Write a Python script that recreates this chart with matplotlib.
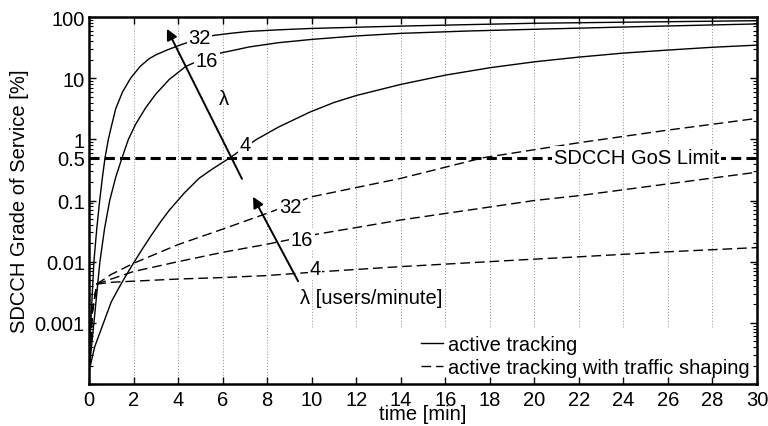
import numpy as np
import matplotlib
matplotlib.use("Agg")
import matplotlib.pyplot as plt

plt.rcParams['font.family'] = ['Liberation Sans', 'DejaVu Sans']

# ---------------- data (time in minutes, GoS in %) ----------------
lambdas = [32, 16, 4]

solid32_t = [0, 0.08, 0.22, 0.35, 0.48, 0.6, 0.72, 0.87, 1.0, 1.2, 1.5, 1.87, 2.3, 2.7, 3.0, 3.5,
             4.2, 4.9, 5.6, 6.4, 7.2, 8.5, 10, 12, 14, 17, 20, 25, 30]
solid32_v = [1.6e-4, 1e-3, 0.01, 0.035, 0.1, 0.235, 0.5, 1.0, 1.6, 3.16, 5.9, 10, 15.6, 20.8, 24, 28.8,
             36, 43, 50, 54.3, 58.2, 61.7, 65, 68, 71, 75, 79, 83, 87]

solid16_t = [0, 0.22, 0.49, 0.7, 0.93, 1.2, 1.5, 1.77, 2.1, 2.55, 3.0, 3.6, 4.34, 5.2, 5.9, 7.2,
             8.5, 10, 12, 14, 17, 20, 25, 30]
solid16_v = [1.6e-4, 1e-3, 0.01, 0.035, 0.1, 0.24, 0.52, 1.0, 1.78, 3.3, 5.5, 9.5, 15.5, 21.4, 25.7, 32.4,
             38, 43, 49, 54, 59, 63, 70, 77]

solid4_t = [0, 0.25, 0.57, 1.0, 1.3, 1.62, 2.0, 2.4, 2.8, 3.2, 3.6, 4.3, 4.94, 5.5, 6.33, 7.0, 7.53,
            8.5, 9.93, 11, 12, 14, 16, 18, 20, 22, 24, 26, 28, 30]
solid4_v = [1.6e-4, 4e-4, 8.3e-4, 0.0022, 0.0035, 0.0056, 0.0095, 0.0162, 0.027, 0.044, 0.069, 0.135,
            0.23, 0.32, 0.5, 0.74, 1.0, 1.58, 2.8, 4.0, 5.2, 7.9, 11.2, 14.8, 18.5, 22.1, 25.7, 28.8, 32, 34.7]

dashed32_t = [0, 0.15, 0.35, 1.0, 2.0, 4.0, 6.0, 7.9, 10, 14, 17.7, 22, 25.9, 30]
dashed32_v = [1.6e-4, 0.0015, 0.0043, 0.0062, 0.0094, 0.019, 0.034, 0.06, 0.115, 0.23, 0.5, 0.88, 1.4, 2.2]

dashed16_t = [0, 0.15, 0.35, 1.0, 2.0, 4.0, 6.0, 7.9, 10.2, 14, 20, 22, 26, 30]
dashed16_v = [1.6e-4, 0.0015, 0.0043, 0.0052, 0.0069, 0.010, 0.0142, 0.019, 0.028, 0.048, 0.1, 0.12, 0.187, 0.29]

dashed4_t = [0, 0.15, 0.35, 1.0, 2.0, 4.0, 6.0, 7.9, 10, 14, 20, 22, 26, 30]
dashed4_v = [1.6e-4, 0.0015, 0.0043, 0.0046, 0.0048, 0.0052, 0.0055, 0.0059, 0.0067, 0.0083, 0.011, 0.012, 0.0145, 0.017]

gos_limit = 0.5

x_ticks = list(range(0, 31, 2))
y_ticks = [1e-4, 1e-3, 1e-2, 0.1, 0.5, 1, 10, 100]
y_tick_labels = ['', '0.001', '0.01', '0.1', '0.5', '1', '10', '100']

legend_labels = ['active tracking', 'active tracking with traffic shaping']

# ---------------- figure ----------------
FS = 14.5
fig = plt.figure(figsize=(7.68, 4.27), dpi=100)
ax = fig.add_axes([89 / 768, 42 / 427, 668 / 768, 367 / 427])
ax.set_yscale('log')
ax.set_xlim(0, 30)
ax.set_ylim(1e-4, 100)

# vertical dotted grid (interrupted behind the legend box)
legend_top = 0.155
xt = ax.get_xaxis_transform()
for x in x_ticks[1:-1]:
    y0 = legend_top if x >= 10 else 0.0
    ax.plot([x, x], [y0, 1], transform=xt, color='0.55', lw=0.7,
            linestyle=(0, (1, 2)), zorder=0.8)

solid_kw = dict(color='black', lw=1.0, zorder=2)
dash_kw = dict(color='black', lw=1.0, dashes=(7, 3.5), zorder=2)

l_s32, = ax.plot(solid32_t, solid32_v, **solid_kw)
ax.plot(solid16_t, solid16_v, **solid_kw)
ax.plot(solid4_t, solid4_v, **solid_kw)
l_d32, = ax.plot(dashed32_t, dashed32_v, **dash_kw)
ax.plot(dashed16_t, dashed16_v, **dash_kw)
ax.plot(dashed4_t, dashed4_v, **dash_kw)

# GoS limit line
ax.axhline(gos_limit, color='black', lw=2.2, dashes=(3.3, 1.7), zorder=2.5)
ax.text(24.6, gos_limit, 'SDCCH GoS Limit', ha='center', va='center', fontsize=FS,
        bbox=dict(fc='white', ec='none', pad=1.5), zorder=3)

lab_bbox = dict(fc='white', ec='none', pad=1.0)
# labels for active tracking curves
ax.text(4.98, 47, str(lambdas[0]), ha='center', va='center', fontsize=FS, bbox=lab_bbox, zorder=3)
ax.text(5.30, 19.3, str(lambdas[1]), ha='center', va='center', fontsize=FS, bbox=lab_bbox, zorder=3)
ax.text(7.0, 0.81, str(lambdas[2]), ha='center', va='center', fontsize=FS, bbox=lab_bbox, zorder=3)
# labels for traffic shaping curves
ax.text(9.03, 0.0785, str(lambdas[0]), ha='center', va='center', fontsize=FS, bbox=lab_bbox, zorder=3)
ax.text(9.57, 0.0234, str(lambdas[1]), ha='center', va='center', fontsize=FS, bbox=lab_bbox, zorder=3)
ax.text(10.15, 0.0076, str(lambdas[2]), ha='center', va='center', fontsize=FS, bbox=lab_bbox, zorder=3)

arrow_kw = dict(arrowstyle='-|>', lw=1.4, color='black', mutation_scale=16, shrinkA=0, shrinkB=0)
ax.annotate('', xy=(3.50, 64), xytext=(6.87, 0.226), arrowprops=arrow_kw, zorder=4)
ax.text(6.06, 4.6, 'λ', ha='center', va='center', fontsize=FS, zorder=4)
ax.annotate('', xy=(7.37, 0.115), xytext=(9.39, 0.0048), arrowprops=arrow_kw, zorder=4)
ax.text(9.48, 0.0026, 'λ [users/minute]', ha='left', va='center', fontsize=FS, zorder=4)

# legend
leg = ax.legend([l_s32, l_d32], legend_labels, loc='lower right', fontsize=FS,
                frameon=False, handlelength=1.1, handletextpad=0.25,
                labelspacing=0.2, borderpad=0.1, borderaxespad=0.25)

# ticks / axes
ax.set_xticks(x_ticks)
ax.set_xticklabels([str(x) for x in x_ticks])
ax.set_yticks(y_ticks)
ax.set_yticklabels(y_tick_labels)
ax.yaxis.set_minor_locator(matplotlib.ticker.LogLocator(base=10, subs=np.arange(2, 10)))
ax.yaxis.set_minor_formatter(matplotlib.ticker.NullFormatter())
ax.tick_params(which='both', direction='in', top=True, right=True, labelsize=FS)
ax.tick_params(which='major', length=5, width=1.0)
ax.tick_params(which='minor', length=3, width=0.8)
ax.tick_params(axis='x', pad=4)
ax.tick_params(axis='y', pad=3)
for s in ax.spines.values():
    s.set_linewidth(1.8)

ax.set_xlabel('time [min]', fontsize=FS, labelpad=-3)
ax.set_ylabel('SDCCH Grade of Service [%]', fontsize=FS, labelpad=4)

fig.savefig('out.png', dpi=100)
